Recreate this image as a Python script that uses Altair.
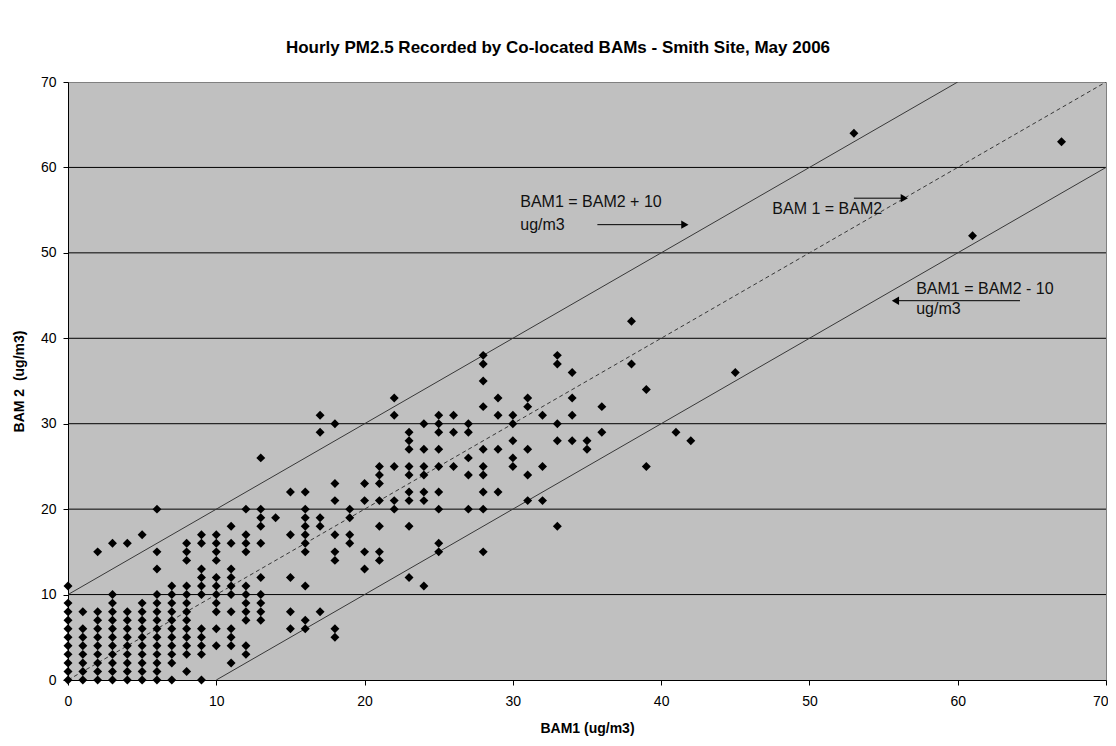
import altair as alt
import pandas as pd

# BAM1 reading (x) and the BAM2 readings recorded at that BAM1 value (y)
bam1_values = [0, 1, 2, 3, 4, 5, 6, 7, 8, 9, 10, 11, 12, 13, 14, 15, 16, 17, 18, 19,
               20, 21, 22, 23, 24, 25, 26, 27, 28, 29, 30, 31, 32, 33, 34, 35, 36,
               38, 39, 41, 42, 45, 53, 61, 67]
bam2_values = [
    [0, 1, 2, 3, 4, 5, 6, 7, 8, 9, 11],
    [0, 1, 2, 3, 4, 5, 6, 8],
    [0, 1, 2, 3, 4, 5, 6, 7, 8, 15],
    [0, 1, 2, 3, 4, 5, 6, 7, 8, 9, 10, 16],
    [0, 1, 2, 3, 4, 5, 6, 7, 8, 16],
    [0, 1, 2, 3, 4, 5, 6, 7, 8, 9, 17],
    [0, 1, 2, 3, 4, 5, 6, 7, 8, 9, 10, 13, 15, 20],
    [0, 2, 3, 4, 5, 6, 7, 8, 9, 10, 11],
    [1, 3, 4, 5, 6, 7, 8, 9, 10, 11, 14, 15, 16],
    [0, 3, 4, 5, 6, 10, 11, 12, 13, 16, 17],
    [4, 6, 8, 9, 10, 11, 12, 14, 15, 16, 17],
    [2, 4, 5, 6, 8, 10, 11, 12, 13, 16, 18],
    [3, 4, 7, 8, 9, 10, 11, 15, 16, 17, 20],
    [7, 8, 9, 10, 12, 16, 18, 19, 20, 26],
    [19],
    [6, 8, 12, 17, 22],
    [6, 7, 11, 15, 16, 17, 18, 19, 20, 22],
    [8, 18, 19, 29, 31],
    [5, 6, 14, 15, 17, 21, 23, 30],
    [16, 17, 19, 20],
    [13, 15, 21, 23],
    [14, 15, 18, 21, 23, 24, 25],
    [20, 21, 25, 31, 33],
    [12, 18, 21, 22, 24, 25, 27, 28, 29],
    [11, 21, 22, 24, 25, 27, 30],
    [15, 16, 20, 22, 25, 27, 29, 30, 31],
    [25, 29, 31],
    [20, 24, 26, 29, 30],
    [15, 20, 22, 24, 25, 27, 32, 35, 37, 38],
    [22, 27, 31, 33],
    [25, 26, 28, 30, 31],
    [21, 24, 27, 32, 33],
    [21, 25, 31],
    [18, 28, 30, 37, 38],
    [28, 31, 33, 36],
    [27, 28],
    [29, 32],
    [37, 42],
    [25, 34],
    [29],
    [28],
    [36],
    [64],
    [52],
    [63],
]

# reference lines: BAM1 = BAM2 + 10, BAM1 = BAM2, BAM1 = BAM2 - 10
upper_x = [0, 60]
upper_y = [10, 70]
equal_x = [0, 70]
equal_y = [0, 70]
lower_x = [10, 70]
lower_y = [0, 60]

grid_values = [10, 20, 30, 40, 50, 60]
tick_values = [0, 10, 20, 30, 40, 50, 60, 70]

# annotations
label_text = ["BAM1 = BAM2 + 10", "ug/m3", "BAM 1 = BAM2", "BAM1 = BAM2 - 10", "ug/m3"]
label_x = [30.5, 30.5, 47.5, 57.2, 57.2]
label_y = [56.0, 53.3, 55.1, 45.8, 43.4]

arrow_x_start = [35.7, 53.0, 64.2]
arrow_x_end = [41.6, 56.4, 55.8]
arrow_y = [53.3, 56.4, 44.4]
arrow_dir = ["right", "right", "left"]

rows = []
for bx, ys in zip(bam1_values, bam2_values):
    for by in ys:
        rows.append({"x": bx, "y": by})
points_df = pd.DataFrame(rows)

lines_df = pd.DataFrame(
    [{"line": "upper", "x": a, "y": b} for a, b in zip(upper_x, upper_y)]
    + [{"line": "lower", "x": a, "y": b} for a, b in zip(lower_x, lower_y)]
)
equal_df = pd.DataFrame({"x": equal_x, "y": equal_y})
grid_df = pd.DataFrame({"y": grid_values})
label_df = pd.DataFrame({"x": label_x, "y": label_y, "t": label_text})
arrow_df = pd.DataFrame({"x": arrow_x_start, "x2": arrow_x_end, "y": arrow_y, "d": arrow_dir})

FONT = "Arial, Liberation Sans, sans-serif"

xs = alt.Scale(domain=[0, 70], nice=False, zero=False)
ys_ = alt.Scale(domain=[0, 70], nice=False, zero=False)
xaxis = alt.Axis(
    values=tick_values, title="BAM1 (ug/m3)", grid=False, labelFlush=False,
    labelAlign={"condition": {"test": "datum.value >= 70", "value": "right"}, "value": "center"},
    labelOffset={"condition": {"test": "datum.value >= 70", "value": 2}, "value": 0},
)
yaxis = alt.Axis(values=tick_values, title="BAM 2\u00a0 (ug/m3)", grid=False)

X = alt.X("x:Q", scale=xs, axis=xaxis)
Y = alt.Y("y:Q", scale=ys_, axis=yaxis)

grid = alt.Chart(grid_df).mark_rule(color="#000000", strokeWidth=1).encode(y=Y)

side_lines = alt.Chart(lines_df).mark_line(color="#383838", strokeWidth=1, clip=True).encode(
    x=X, y=Y, detail="line:N"
)
equal_line = alt.Chart(equal_df).mark_line(
    color="#383838", strokeWidth=1, strokeDash=[4, 3], clip=True
).encode(x=X, y=Y)

pts = alt.Chart(points_df).mark_point(
    shape="diamond", filled=True, size=80, color="#000000", opacity=1
).encode(x=X, y=Y)

labels = alt.Chart(label_df).mark_text(
    align="left", baseline="middle", font=FONT, fontSize=16, color="#111111"
).encode(x=X, y=Y, text="t:N")

arrow_lines = alt.Chart(arrow_df).mark_rule(color="#000000", strokeWidth=1).encode(
    x=X, x2="x2:Q", y=Y
)
arrow_heads = alt.Chart(arrow_df).mark_point(filled=True, size=70, color="#000000", opacity=1).encode(
    x=alt.X("x2:Q", scale=xs, axis=xaxis),
    y=Y,
    shape=alt.Shape("d:N", scale=alt.Scale(domain=["right", "left"], range=["triangle-right", "triangle-left"]), legend=None),
)

chart = (
    alt.layer(grid, side_lines, equal_line, pts, labels, arrow_lines, arrow_heads)
    .properties(
        width=1038,
        height=598,
        autosize=alt.AutoSizeParams(type="none"),
        padding={"left": 60, "top": 74, "right": 2, "bottom": 56},
        title=alt.TitleParams(
            "Hourly PM2.5 Recorded by Co-located BAMs - Smith Site, May 2006",
            font=FONT, fontSize=17, fontWeight="bold", color="#000000",
            anchor="middle", frame="group", dx=-29, offset=18,
        ),
    )
    .configure_view(fill="#C0C0C0", stroke="#808080", strokeWidth=1)
    .configure_axis(
        domainColor="#000000", tickColor="#000000", tickSize=5,
        labelFont=FONT, labelFontSize=14, labelColor="#000000",
        titleFont=FONT, titleFontSize=14, titleFontWeight="bold", titleColor="#000000",
    )
    .configure_axisX(labelPadding=9, titlePadding=13)
    .configure_axisY(labelPadding=7, titlePadding=14)
)

chart.save("out.html", embed_options={"renderer": "svg", "actions": False})
